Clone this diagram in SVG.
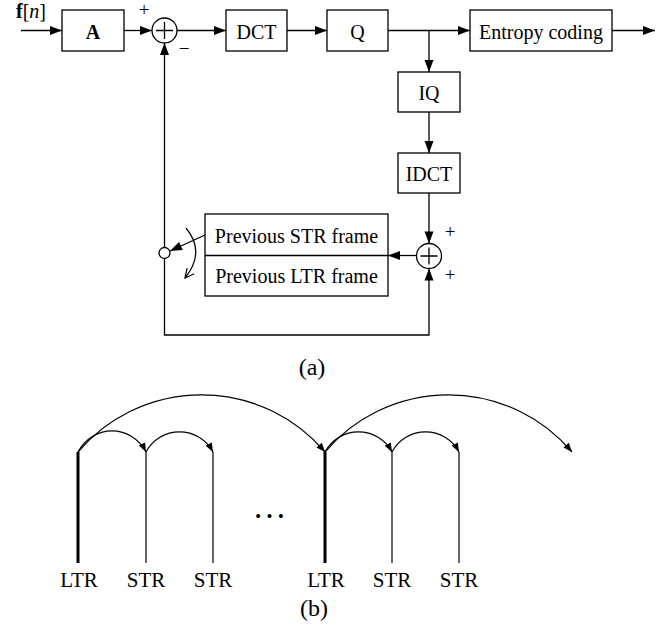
<svg xmlns="http://www.w3.org/2000/svg" width="670" height="628" viewBox="0 0 670 628">
<style>
text{font-family:"Liberation Serif","Times New Roman",serif;fill:#000}
.lbl{font-size:20px;text-anchor:middle}
.sgn{font-size:19px;text-anchor:middle}
.box{fill:#fff;stroke:#000;stroke-width:1.3}
.ln{fill:none;stroke:#000;stroke-width:1.3}
.thin{fill:none;stroke:#000;stroke-width:1.2}
.thick{fill:none;stroke:#000;stroke-width:3}
.frm{font-size:21px;text-anchor:middle}
.cap{font-size:24px;text-anchor:middle}
</style>
<defs>
<marker id="ah" markerWidth="12" markerHeight="10" refX="12" refY="5" orient="auto" markerUnits="userSpaceOnUse" overflow="visible"><path d="M0,0.5 L12,5 L0,9.5 z" fill="#000"/></marker>
<marker id="sah" markerWidth="9" markerHeight="7" refX="9" refY="3.5" orient="auto" markerUnits="userSpaceOnUse" overflow="visible"><path d="M0,0 L9,3.5 L0,7 z" fill="#000"/></marker>
<marker id="oah" markerWidth="10" markerHeight="10" refX="9" refY="5" orient="auto" markerUnits="userSpaceOnUse" overflow="visible"><path d="M0,0.5 L9,5 L0,9.5" fill="none" stroke="#000" stroke-width="1.2"/></marker>
</defs>
<rect width="670" height="628" fill="#fff"/>

<!-- (a) block diagram -->
<g id="connectors">
<path class="ln" d="M21,30.5 H62" marker-end="url(#ah)"/>
<path class="ln" d="M124,30.5 H152" marker-end="url(#ah)"/>
<path class="ln" d="M177,30.5 H226" marker-end="url(#ah)"/>
<path class="ln" d="M287,30.5 H327" marker-end="url(#ah)"/>
<path class="ln" d="M388,30.5 H470" marker-end="url(#ah)"/>
<path class="ln" d="M612,30.5 H655" marker-end="url(#ah)"/>
<path class="ln" d="M429,30.5 V72" marker-end="url(#ah)"/>
<path class="ln" d="M429,112 V153" marker-end="url(#ah)"/>
<path class="ln" d="M429,193 V243.5" marker-end="url(#ah)"/>
<path class="ln" d="M416.5,255.5 H388" marker-end="url(#ah)"/>
<path class="ln" d="M164.5,247.5 V43" marker-end="url(#ah)"/>
<path class="ln" d="M164.5,258.5 V335 H429 V268.5" marker-end="url(#ah)"/>
<path class="ln" d="M205,235 L170,251" marker-end="url(#ah)"/>
<path class="thin" d="M186,228 Q206,252 185,278" marker-end="url(#oah)"/>
<path class="thin" d="M78,452 A38,38 0 0 1 146,452" marker-end="url(#sah)"/>
<path class="thin" d="M146,452 A38,38 0 0 1 213,452" marker-end="url(#sah)"/>
<path class="thin" d="M325,452 A38,38 0 0 1 392,452" marker-end="url(#sah)"/>
<path class="thin" d="M392,452 A38,38 0 0 1 459,452" marker-end="url(#sah)"/>
<path class="thin" d="M78,452 A162,162 0 0 1 325,452" marker-end="url(#sah)"/>
<path class="thin" d="M325,452 A162,162 0 0 1 572,452" marker-end="url(#sah)"/>
</g>

<g id="input"><text x="16" y="18" font-size="20px"><tspan font-weight="bold">f</tspan>[<tspan font-style="italic">n</tspan>]</text></g>
<g id="A"><rect class="box" x="62" y="10" width="62" height="41"/><text class="lbl" x="93" y="38.5" font-weight="bold">A</text></g>
<g id="sum1"><circle class="box" cx="164.5" cy="30.5" r="12.5"/><path class="ln" d="M156,30.5 H173 M164.5,22 V39"/><text class="sgn" x="144" y="16">+</text><text class="sgn" x="184" y="55">−</text></g>
<g id="DCT"><rect class="box" x="226" y="10" width="61" height="41"/><text class="lbl" x="256.5" y="38.5">DCT</text></g>
<g id="Q"><rect class="box" x="327" y="10" width="61" height="41"/><text class="lbl" x="357.5" y="38.5">Q</text></g>
<g id="entropy"><rect class="box" x="470" y="10" width="142" height="41"/><text class="lbl" x="541" y="38.5">Entropy coding</text></g>
<g id="IQ"><rect class="box" x="398" y="72" width="62" height="40"/><text class="lbl" x="429" y="100">IQ</text></g>
<g id="IDCT"><rect class="box" x="398" y="153" width="62" height="40"/><text class="lbl" x="429" y="181">IDCT</text></g>
<g id="sum2"><circle class="box" cx="429" cy="256" r="12.5"/><path class="ln" d="M420.5,256 H437.5 M429,247.5 V264.5"/><text class="sgn" x="450" y="238">+</text><text class="sgn" x="450" y="281">+</text></g>
<g id="framebuf"><rect class="box" x="205" y="214" width="183" height="82"/><path class="ln" d="M205,255.5 H388"/><text class="lbl" x="296.5" y="243">Previous STR frame</text><text class="lbl" x="296.5" y="283">Previous LTR frame</text></g>
<g id="switch"><circle class="box" cx="164.5" cy="253" r="5.5"/></g>
<g id="caption-a"><text class="cap" x="312" y="375">(a)</text></g>

<!-- (b) reference structure -->
<g id="LTR1"><path class="thick" d="M78,452 V563"/><text class="frm" x="79" y="587">LTR</text></g>
<g id="STR1"><path class="thin" d="M146,452 V563"/><text class="frm" x="146" y="587">STR</text></g>
<g id="STR2"><path class="thin" d="M213,452 V563"/><text class="frm" x="213" y="587">STR</text></g>
<g id="dots"><text x="269.5" y="518" font-size="34px" text-anchor="middle">…</text></g>
<g id="LTR2"><path class="thick" d="M325,452 V563"/><text class="frm" x="326" y="587">LTR</text></g>
<g id="STR3"><path class="thin" d="M392,452 V563"/><text class="frm" x="392" y="587">STR</text></g>
<g id="STR4"><path class="thin" d="M459,452 V563"/><text class="frm" x="459" y="587">STR</text></g>
<g id="caption-b"><text class="cap" x="314" y="616">(b)</text></g>
</svg>
